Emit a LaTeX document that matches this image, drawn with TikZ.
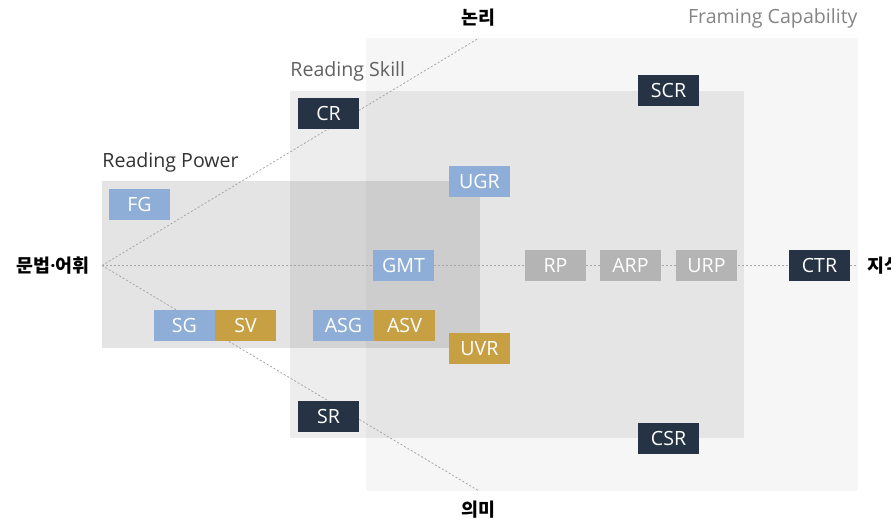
\documentclass[tikz,border=0pt]{standalone}
\usepackage{fontspec}
\setmainfont{Open Sans}
\newfontfamily\kofont{Noto Sans CJK KR}
\definecolor{navy}{HTML}{263345}
\definecolor{skyblue}{HTML}{8EAED8}
\definecolor{ochre}{HTML}{C7A044}
\definecolor{ash}{HTML}{B4B4B4}
\begin{document}
\begin{tikzpicture}[x = .5pt, y = -.5pt,
	chip/.style = {minimum width = 30.5pt, minimum height = 15.5pt, inner sep = 0, text = white, font = \fontsize{9.8}{9.8}\selectfont},
	region/.style = {fill = black, fill opacity = #1},
	caption/.style = {font = \fontsize{9.8}{9.8}\selectfont, inner sep = 0},
	pole/.style = {font = \kofont\bfseries\fontsize{9.2}{9.2}\selectfont, inner sep = 0},
	guide/.style = {draw = black!35, line width = .4pt, dash pattern = on 1pt off 1pt}]
	\def\chip#1{node [chip, fill = #1] }
	\useasboundingbox (0, 0) rectangle (891, 522);

	\fill [region = .035] (366, 38) rectangle (858, 491);
	\fill [region = .07] (290, 91) rectangle (744, 438);
	\fill [region = .105] (102, 181) rectangle (480, 348);
	\node [caption, anchor = base east, text = black!48] (framing) at (858, 24) {Framing Capability};
	\node [caption, anchor = base west, text = black!62] (skill) at (290, 77) {Reading Skill};
	\node [caption, anchor = base west, text = black!80] (power) at (102, 168) {Reading Power};

	\coordinate (hub) at (102, 265.5);
	\coordinate (logic) at (479, 38);
	\coordinate (meaning) at (479, 491);
	\coordinate (knowledge) at (858, 265.5);
	\draw [guide] (hub) -- (logic);
	\draw [guide] (hub) -- (meaning);
	\draw [guide] (hub) -- (knowledge);

	\draw (328.5, 113.5) \chip{navy} (cr) {CR};
	\draw (668.5, 90.5) \chip{navy} (scr) {SCR};
	\draw (139.5, 204.5) \chip{skyblue} (fg) {FG};
	\draw (479.5, 181.5) \chip{skyblue} (ugr) {UGR};
	\draw (403.5, 265.5) \chip{skyblue} (gmt) {GMT};
	\draw (555.5, 265.5) \chip{ash} (rp) {RP};
	\draw (630.5, 265.5) \chip{ash} (arp) {ARP};
	\draw (706.5, 265.5) \chip{ash} (urp) {URP};
	\draw (819.5, 265.5) \chip{navy} (ctr) {CTR};
	\draw (184.5, 325.5) \chip{skyblue} (sg) {SG};
	\draw (245.5, 325.5) \chip{ochre} (sv) {SV};
	\draw (343.5, 325.5) \chip{skyblue} (asg) {ASG};
	\draw (404.5, 325.5) \chip{ochre} (asv) {ASV};
	\draw (479.5, 348.5) \chip{ochre} (uvr) {UVR};
	\draw (328.5, 416.5) \chip{navy} (sr) {SR};
	\draw (668.5, 438.5) \chip{navy} (csr) {CSR};

	\node [pole] (logictext) at (478, 18) {논리};
	\node [pole] (meaningtext) at (478, 510) {의미};
	\node [pole] (grammartext) at (53, 265.5) {문법{\rmfamily\bfseries·}어휘};
	\node [pole, anchor = west] (knowledgetext) at (867, 265.5) {지식};
\end{tikzpicture}
\end{document}
